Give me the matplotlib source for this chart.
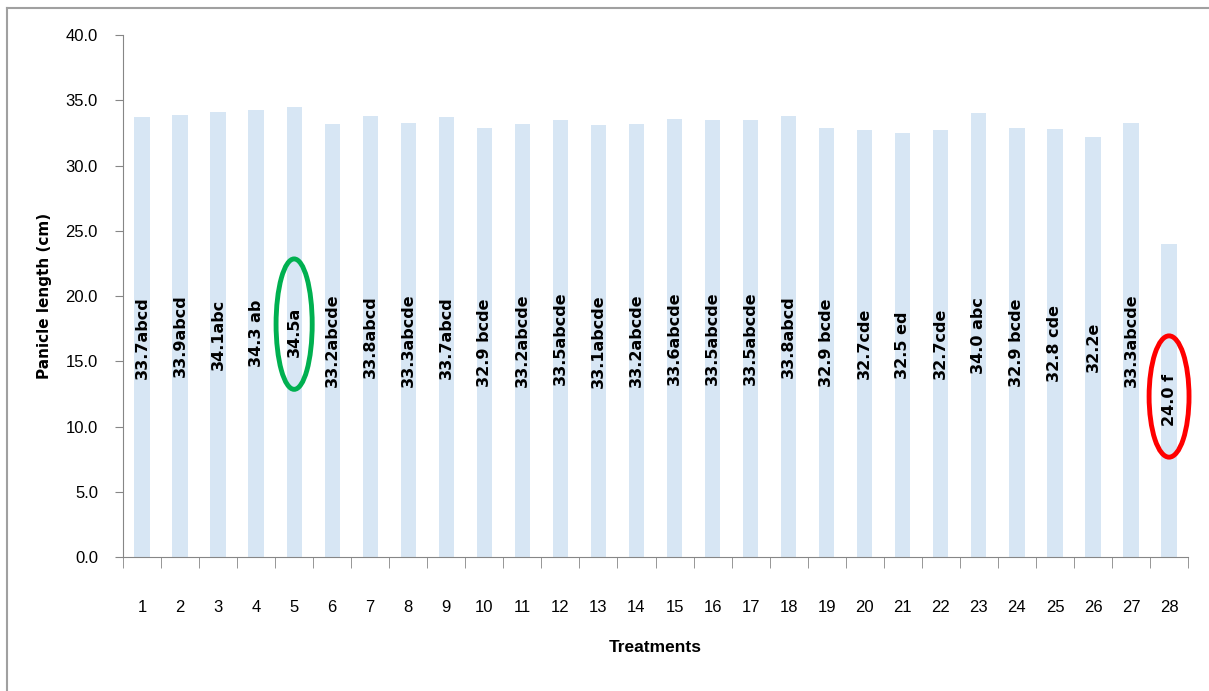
import matplotlib.pyplot as plt
from matplotlib.patches import Ellipse
from matplotlib.lines import Line2D

treatments = list(range(1, 29))
lengths = [33.7, 33.9, 34.1, 34.3, 34.5, 33.2, 33.8, 33.3, 33.7, 32.9,
           33.2, 33.5, 33.1, 33.2, 33.6, 33.5, 33.5, 33.8, 32.9, 32.7,
           32.5, 32.7, 34.0, 32.9, 32.8, 32.2, 33.3, 24.0]
letters = ["abcd", "abcd", "abc", " ab", "a", "abcde", "abcd", "abcde", "abcd", " bcde",
           "abcde", "abcde", "abcde", "abcde", "abcde", "abcde", "abcde", "abcd", " bcde", "cde",
           " ed", "cde", " abc", " bcde", " cde", "e", "abcde", " f"]

plt.rcParams['font.family'] = ['Liberation Sans', 'DejaVu Sans']

fig = plt.figure(figsize=(12.09, 6.91), dpi=100)
ax = fig.add_axes([0.1017, 0.194, 0.881, 0.755])

ax.bar(treatments, lengths, width=0.4, color="#d7e6f4")

for x, v, l in zip(treatments, lengths, letters):
    ax.text(x, v / 2, f"{v:.1f}{l}", rotation=90, ha="center", va="center",
            fontsize=11.5, fontweight="bold", family="DejaVu Sans")

# highlight rings
ax.add_patch(Ellipse((5, lengths[4] / 2 + 0.6), 0.95, 10.0, fill=False,
                     edgecolor="#00b050", linewidth=3.5, clip_on=False))
ax.add_patch(Ellipse((28, lengths[27] / 2 + 0.3), 1.05, 9.3, fill=False,
                     edgecolor="#ff0000", linewidth=3.5, clip_on=False))

ax.set_xlim(0.5, 28.5)
ax.set_ylim(0, 40)
ax.set_yticks([i * 5 for i in range(9)])
ax.set_yticklabels([f"{i * 5:.1f}" for i in range(9)], fontsize=12)
ax.set_xticks(treatments)
ax.set_xticklabels([str(t) for t in treatments], fontsize=12)
ax.set_xticks([t + 0.5 for t in range(0, 29)], minor=True)
ax.tick_params(axis="x", which="major", length=0, pad=31)
ax.tick_params(axis="x", which="minor", length=8, color="#868686")
ax.tick_params(axis="y", length=6, color="#868686", pad=12)

for s in ["top", "right"]:
    ax.spines[s].set_visible(False)
for s in ["left", "bottom"]:
    ax.spines[s].set_color("#868686")

ax.set_ylabel("Panicle length (cm)", fontsize=11, fontweight="bold",
              family="DejaVu Sans", labelpad=10)
ax.set_xlabel("Treatments", fontsize=12.5, fontweight="bold", labelpad=18)

# screenshot frame
fig.add_artist(Line2D([7 / 1209, 1], [1 - 8 / 691, 1 - 8 / 691], color="#a0a0a0", lw=1.5))
fig.add_artist(Line2D([7 / 1209, 7 / 1209], [0, 1 - 8 / 691], color="#a0a0a0", lw=1.5))

plt.savefig("out.png", dpi=100)
